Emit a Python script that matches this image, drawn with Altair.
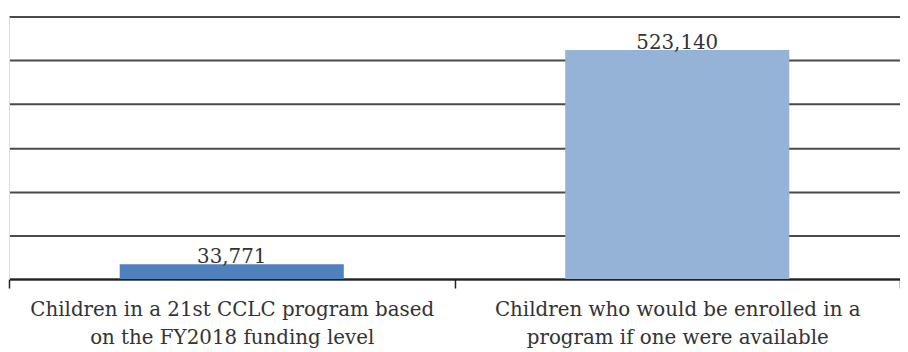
import altair as alt
import pandas as pd

categories = [
    "Children in a 21st CCLC program based|on the FY2018 funding level",
    "Children who would be enrolled in a|program if one were available",
]
values = [33771, 523140]
colors = ["#4F81BD", "#95B3D7"]
value_labels = ["33,771", "523,140"]

df = pd.DataFrame({"cat": categories, "val": values, "color": colors, "lbl": value_labels})

FONT = "DejaVu Serif"

x = alt.X(
    "cat:N",
    sort=categories,
    title=None,
    scale=alt.Scale(paddingInner=0, paddingOuter=0),
    axis=alt.Axis(
        labelExpr="split(datum.label, '|')",
        labelAngle=0,
        labelFont=FONT,
        labelFontSize=20,
        labelColor="#333333",
        labelLimit=1000,
        labelPadding=12,
        labelLineHeight=28,
        tickBand="extent",
        tickSize=9,
        tickColor="#222222",
        tickWidth=1.5,
        domainColor="#222222",
        domainWidth=2,
        grid=False,
    ),
)
y = alt.Y(
    "val:Q",
    title=None,
    scale=alt.Scale(domain=[0, 600000], nice=False),
    axis=alt.Axis(
        values=[0, 100000, 200000, 300000, 400000, 500000, 600000],
        labels=False,
        ticks=False,
        domainColor="#dddddd",
        domainWidth=1,
        grid=True,
        gridColor="#4a4a4a",
        gridWidth=2,
    ),
)

bars = alt.Chart(df).mark_bar(width=alt.RelativeBandSize(0.503)).encode(
    x=x, y=y, color=alt.Color("color:N", scale=None)
)
text = alt.Chart(df).mark_text(
    font=FONT, fontSize=20, color="#333333", baseline="middle", dy=-7
).encode(x=alt.X("cat:N", sort=categories), y="val:Q", text="lbl:N")

chart = (
    alt.layer(bars, text)
    .properties(
        width=899,
        height=265,
        autosize=alt.AutoSizeParams(type="none"),
        padding={"left": 1, "top": 7, "right": 0, "bottom": 72},
    )
    .configure_view(stroke=None)
    .configure(background="white")
)

chart.save("out.html", embed_options={"renderer": "svg", "actions": False})
